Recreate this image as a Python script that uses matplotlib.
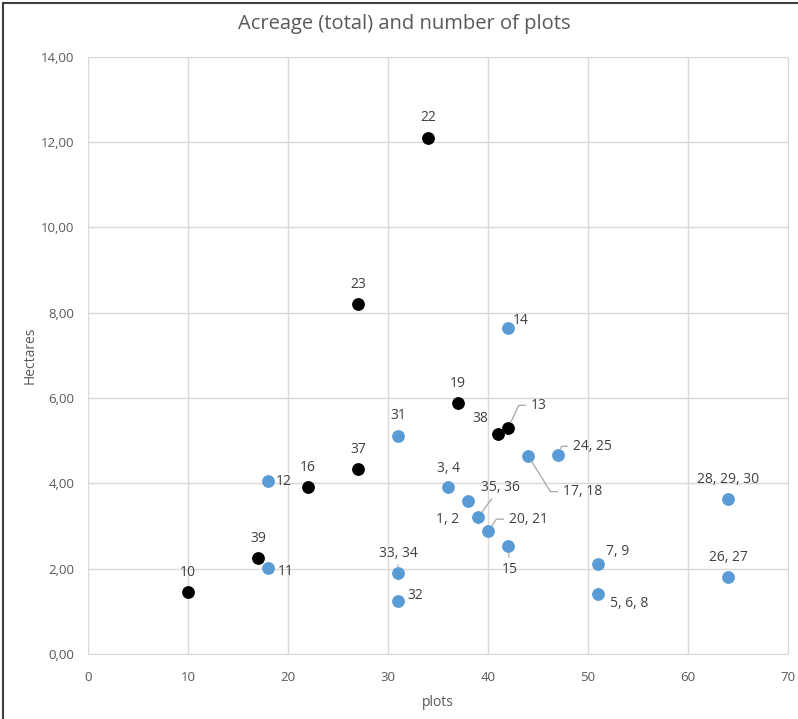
import matplotlib
matplotlib.use("Agg")
import matplotlib.pyplot as plt
from matplotlib.lines import Line2D

plt.rcParams["font.family"] = ["Open Sans", "DejaVu Sans"]

# black series
black_x = [34, 27, 37, 41, 42, 27, 22, 17, 10]
black_y = [12.1, 8.2, 5.88, 5.15, 5.29, 4.33, 3.91, 2.25, 1.45]
black_lbl = ["22", "23", "19", "38", "13", "37", "16", "39", "10"]

# blue series
blue_x = [42, 31, 44, 47, 18, 36, 38, 39, 40, 42, 64, 18, 31, 31, 51, 51, 64]
blue_y = [7.64, 5.11, 4.65, 4.66, 4.05, 3.92, 3.59, 3.2, 2.88, 2.53, 3.63, 2.02,
          1.89, 1.25, 2.12, 1.40, 1.80]
blue_lbl = ["14", "31", "17, 18", "24, 25", "12", "3, 4", "1, 2", "35, 36",
            "20, 21", "15", "28, 29, 30", "11", "33, 34", "32", "7, 9",
            "5, 6, 8", "26, 27"]

x_ticks = [0, 10, 20, 30, 40, 50, 60, 70]
y_ticks = [0, 2, 4, 6, 8, 10, 12, 14]

# label placement in pixels: (dx, dy, ha, leader)
# leader: None, "line" (straight), or angle in degrees at point side
UP = (0, 20, "center", None)
place = {
    "22": UP, "23": UP, "19": UP, "37": UP, "16": UP, "39": UP, "10": UP,
    "31": UP, "28, 29, 30": UP, "26, 27": UP,
    "38": (-18, 16, "center", None),
    "13": (23, 23, "left", 65),
    "14": (5, 8, "left", None),
    "17, 18": (35, -36, "left", -58),
    "24, 25": (15, 9, "left", 68),
    "12": (8, 0, "left", None),
    "3, 4": (0, 18, "center", None),
    "1, 2": (-20, -19, "center", None),
    "35, 36": (22, 30, "center", "line"),
    "20, 21": (21, 12, "left", 55),
    "15": (2, -23, "center", "line"),
    "11": (10, -4, "left", None),
    "33, 34": (0, 20, "center", "line"),
    "32": (9, 5, "left", None),
    "7, 9": (8, 12, "left", None),
    "5, 6, 8": (12, -9, "left", None),
}

fig = plt.figure(figsize=(7.98, 7.19), dpi=100)
ax = fig.add_axes([0.1103, 0.0904, 0.8772, 0.8307])

grid_c = "#d9d9d9"
ax.set_xlim(0, 70)
ax.set_ylim(0, 14)
ax.set_xticks(x_ticks)
ax.set_yticks(y_ticks)
ax.set_yticklabels([f"{v:.2f}".replace(".", ",") for v in y_ticks])
ax.grid(True, color=grid_c, linewidth=1)
ax.set_axisbelow(True)
for s in ax.spines.values():
    s.set_color(grid_c)
ax.tick_params(length=0, labelsize=9.5, colors="#595959", pad=10)
ax.tick_params(axis="x", pad=12)

ax.scatter(blue_x, blue_y, s=85, color="#5b9bd5", zorder=3, linewidths=0)
ax.scatter(black_x, black_y, s=85, color="black", zorder=3, linewidths=0)

k = 0.72  # px -> points
for xs, ys, lbls in [(black_x, black_y, black_lbl), (blue_x, blue_y, blue_lbl)]:
    for x, y, t in zip(xs, ys, lbls):
        dx, dy, ha, lead = place[t]
        arrow = None
        if lead == "line":
            arrow = dict(arrowstyle="-", color="#a6a6a6", lw=0.9,
                         shrinkA=1, shrinkB=5)
        elif lead is not None:
            arrow = dict(arrowstyle="-", color="#a6a6a6", lw=0.9,
                         shrinkA=2, shrinkB=5, relpos=(0, 0.5),
                         connectionstyle=f"angle,angleA=0,angleB={lead},rad=0")
        ax.annotate(t, (x, y), xytext=(dx * k, dy * k), textcoords="offset points",
                    ha=ha, va="center", fontsize=10, color="#404040",
                    arrowprops=arrow, zorder=4)

ax.set_xlabel("plots", fontsize=10, color="#595959", labelpad=8)
ax.set_ylabel("Hectares", fontsize=10, color="#595959", labelpad=2)
fig.text(0.507, 0.966, "Acreage (total) and number of plots", ha="center",
         va="center", fontsize=14.5, color="#595959")

# outer frame (top and left)
fig.add_artist(Line2D([0.004, 0.004], [0, 0.996], transform=fig.transFigure,
                      color="#404040", lw=1.5))
fig.add_artist(Line2D([0.004, 1], [0.996, 0.996], transform=fig.transFigure,
                      color="#404040", lw=1.5))

fig.savefig("out.png", dpi=100)
